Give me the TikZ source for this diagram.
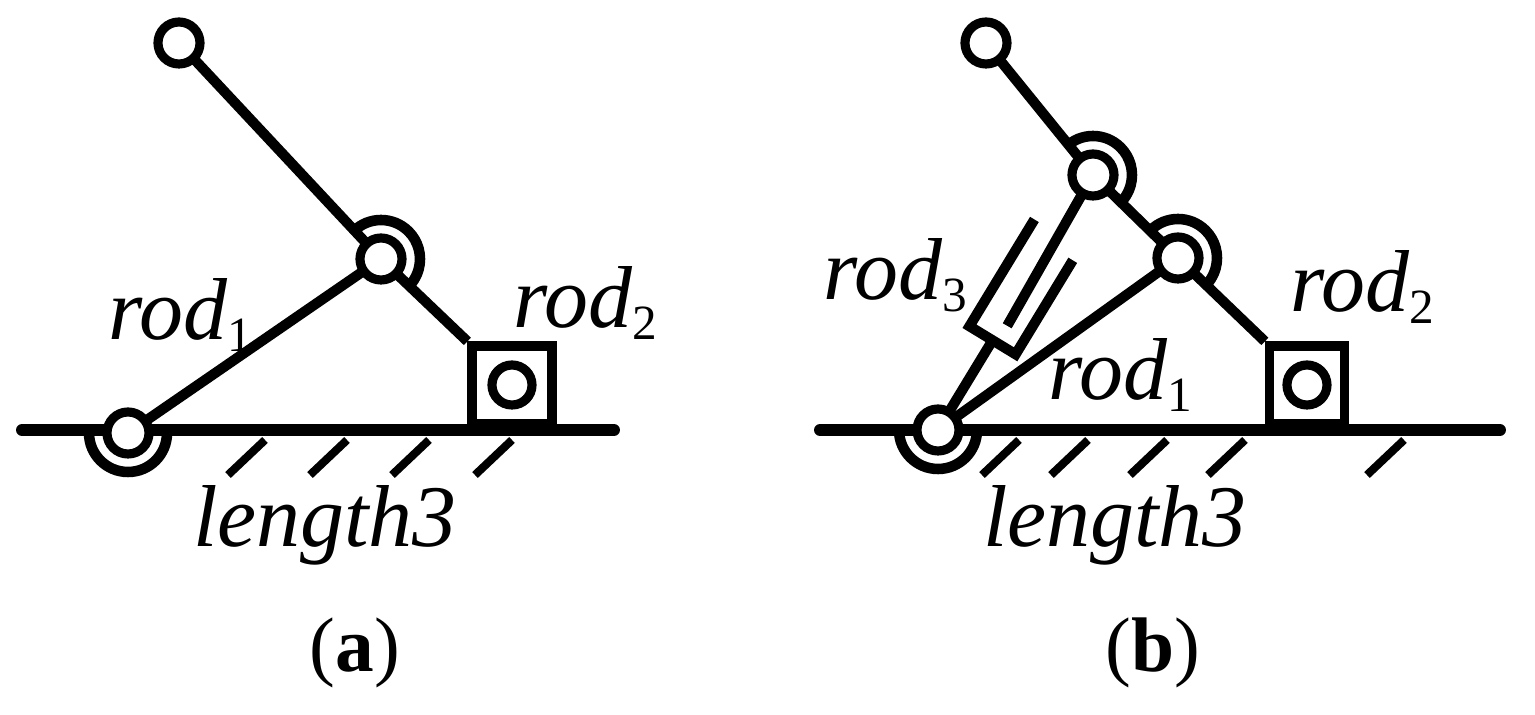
\documentclass[tikz,border=0pt]{standalone}
\usepackage{fontspec}
\setmainfont{Liberation Serif}
\usetikzlibrary{positioning}
\begin{document}
\begin{tikzpicture}[x=0.01cm,y=0.01cm,
		rod/.style={line width=2.9pt},
		ground/.style={line width=3.4pt,line cap=round},
		hatch/.style={line width=2.3pt},
		joint/.style={circle,draw,fill=white,line width=2.6pt,inner sep=0pt,minimum size=0.42cm},
		slider/.style={rectangle,draw,fill=white,line width=2.6pt,inner sep=0pt,minimum width=0.8cm,minimum height=0.78cm},
		label node/.style={font=\fontsize{25}{28}\selectfont\itshape},
		caption node/.style={font=\fontsize{22}{26}\selectfont}]
		\useasboundingbox (0,0) rectangle (1535,715);
		\newcommand{\sub}[1]{\raisebox{-0.3ex}{\fontsize{14}{16}\selectfont\upshape #1}}
		
		% (a)
		\draw[ground] (22,285) -- (614,285);
		\foreach \x in {228,310,392,475}
		\draw[hatch] (\x,240) -- ++(37,35);
		\coordinate (ta) at (179,672);
		\coordinate (ma) at (381,456);
		\coordinate (ga) at (128,282);
		\node[slider] (sa) at (512,330) {};
		\draw[rod] (ta) -- (ma) -- (sa.north west);
		\draw[rod] (ga) -- (ma);
		\draw[line width=3pt] ([shift={(135:39)}]ma) arc[start angle=135,end angle=-50,radius=39];
		\draw[line width=3pt] ([shift={(180:39)}]ga) arc[start angle=180,end angle=360,radius=39];
		\node[joint] at (ta) {};
		\node[joint] at (ma) {};
		\node[joint] at (ga) {};
		\node[joint,minimum size=0.40cm] at (sa) {};
		\node[label node] at (180,400) {rod\sub{1}};
		\node[label node] at (585,412) {rod\sub{2}};
		\node[label node] at (325,190) {length3};
		\node[caption node] at (355,62) {(\textbf{a})};
		
		% (b)
		\draw[ground] (820,285) -- (1500,285);
		\foreach \x in {982,1051,1130,1208,1367}
		\draw[hatch] (\x,240) -- ++(37,35);
		\coordinate (tb) at (986,672);
		\coordinate (ub) at (1093,540);
		\coordinate (mb) at (1178,457);
		\coordinate (gb) at (938,285);
		\node[slider,minimum width=0.75cm] (sb) at (1307,330) {};
		\draw[rod] (tb) -- (ub) -- (mb) -- (sb.north west);
		\draw[rod] (gb) -- (mb);
		\begin{scope}[shift={(gb)},rotate=58.7]
			\draw[rod] (230,27) -- (105,27) -- (105,-27) -- (215,-27);
			\coordinate (p3) at (125,-5);
			\coordinate (c3) at (105,0);
		\end{scope}
		\draw[rod] (ub) -- (p3);
		\draw[rod] (gb) -- (c3);
		\draw[line width=3pt] ([shift={(135:39)}]ub) arc[start angle=135,end angle=-50,radius=39];
		\draw[line width=3pt] ([shift={(135:39)}]mb) arc[start angle=135,end angle=-50,radius=39];
		\draw[line width=3pt] ([shift={(180:39)}]gb) arc[start angle=180,end angle=360,radius=39];
		\node[joint] at (tb) {};
		\node[joint] at (ub) {};
		\node[joint] at (mb) {};
		\node[joint] at (gb) {};
		\node[joint,minimum size=0.40cm] at (sb) {};
		\node[label node] at (895,440) {rod\sub{3}};
		\node[label node] at (1362,428) {rod\sub{2}};
		\node[label node] at (1120,340) {rod\sub{1}};
		\node[label node] at (1115,190) {length3};
		\node[caption node] at (1153,62) {(\textbf{b})};
\end{tikzpicture}
\end{document}
